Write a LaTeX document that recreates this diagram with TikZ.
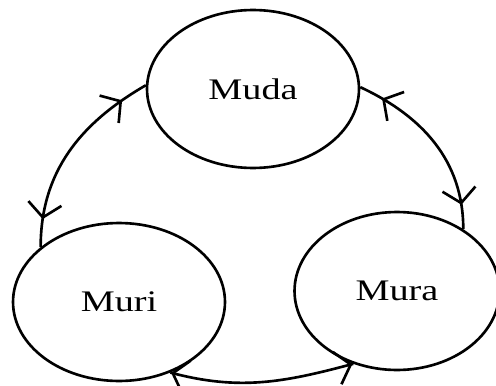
\documentclass[tikz,border=0pt]{standalone}
\usepackage{fontspec}
\setmainfont{Liberation Serif}
\usetikzlibrary{shapes.geometric,arrows.meta,decorations.markings}

\newcommand{\wide}[1]{\scalebox{1.28}[1]{#1}}

\tikzset{
    blob/.style={draw, ellipse, line width=1.5pt, inner sep=0pt,
        minimum width=4.24cm, minimum height=3.16cm,
        font=\fontsize{17}{19}\selectfont},
    link/.style={line width=1.5pt, postaction={decorate}, decoration={markings,
        mark=at position #1 with {\arrowreversed{Straight Barb[length=8pt, width=19pt]}},
        mark=at position -#1 with {\arrow{Straight Barb[length=8pt, width=19pt]}}}}
}

\begin{document}
\begin{tikzpicture}[x=0.02cm, y=-0.02cm]
        \useasboundingbox (0,0) rectangle (496,385);

        \node [blob] (muda) at (253,89) {\wide{Muda}};
        \node [blob] (muri) at (119,302) {\wide{Muri}};
        \node [blob, minimum width=4.1cm] (mura) at (397,291) {\wide{Mura}};

        \draw [link=16pt] (muri.145) to[out=90, in=210] (muda.178);
        \draw [link=14pt] (muda.1) to[out=-25, in=90] (mura.43);
        \draw [link=0.5pt] (muri.-54) to[out=-15, in=195] (mura.239);
    \end{tikzpicture}
\end{document}
